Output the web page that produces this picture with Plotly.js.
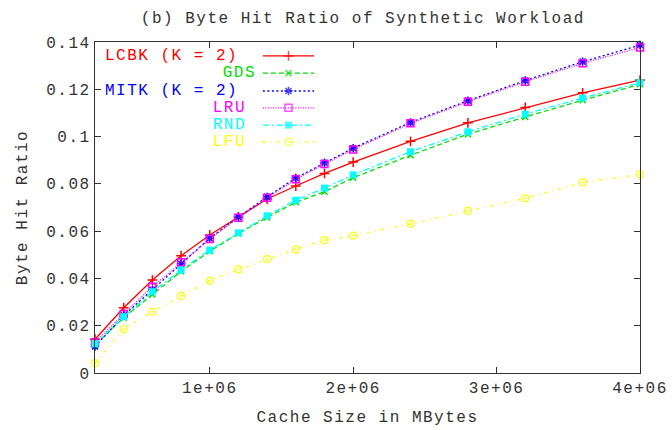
<!DOCTYPE html>
<html>
<head>
<meta charset="utf-8">
<script src="https://cdn.plot.ly/plotly-3.0.1.min.js"></script>
<style>
  html, body { margin: 0; padding: 0; background: #fff; }
  #chart { width: 672px; height: 430px; }
  #chart text { letter-spacing: 1.5px; }
</style>
</head>
<body>
<div id="chart"></div>
<script>
// ---- data ----
const cacheSizes = [200000, 400000, 600000, 800000, 1000000, 1200000, 1400000, 1600000,
                    1800000, 2000000, 2400000, 2800000, 3200000, 3600000, 4000000];
const lcbk = [0.0143, 0.0276, 0.0393, 0.0496, 0.0584, 0.0660, 0.0736, 0.0791, 0.0844, 0.0892, 0.0980, 0.1058, 0.1123, 0.1185, 0.1239];
const gds  = [0.0118, 0.0234, 0.0332, 0.0430, 0.0515, 0.0590, 0.0658, 0.0722, 0.0767, 0.0826, 0.0921, 0.1010, 0.1083, 0.1154, 0.1221];
const mitk = [0.0112, 0.0243, 0.0352, 0.0462, 0.0570, 0.0660, 0.0745, 0.0825, 0.0889, 0.0951, 0.1060, 0.1152, 0.1237, 0.1317, 0.1387];
const lru  = [0.0130, 0.0250, 0.0365, 0.0468, 0.0567, 0.0657, 0.0741, 0.0819, 0.0884, 0.0945, 0.1056, 0.1147, 0.1232, 0.1310, 0.1377];
const rnd  = [0.0123, 0.0238, 0.0344, 0.0436, 0.0520, 0.0593, 0.0665, 0.0731, 0.0782, 0.0838, 0.0936, 0.1020, 0.1095, 0.1163, 0.1228];
const lfu  = [0.0042, 0.0186, 0.0259, 0.0326, 0.0391, 0.0438, 0.0482, 0.0523, 0.0562, 0.0581, 0.0631, 0.0686, 0.0739, 0.0806, 0.0840];

const seriesNames = ["LCBK (K = 2)", "GDS", "MITK (K = 2)", "LRU", "RND", "LFU"];
const xTickVals = [1000000, 2000000, 3000000, 4000000];
const xTickText = ["1e+06", "2e+06", "3e+06", "4e+06"];

// ---- styles ----
const styles = [
  {color: "#ff0000", dash: "solid",            symbol: "cross-thin-open", size: 7, mlw: 1.5},
  {color: "#00e000", dash: "5px,3px",          symbol: "x-thin-open",     size: 6, mlw: 1.5},
  {color: "#0000ff", dash: "2px,2.5px",        symbol: "asterisk-open",   size: 7, mlw: 1.5},
  {color: "#ff00ff", dash: "1px,1.5px",        symbol: "square-open",     size: 7, mlw: 1.5},
  {color: "#00ffff", dash: "6px,3px,2px,3px",  symbol: "square",          size: 7, mlw: 0},
  {color: "#ffff00", dash: "3px,5px,1px,5px",  symbol: "circle-open-dot", size: 7, mlw: 1.2}
];
const seriesValues = [lcbk, gds, mitk, lru, rnd, lfu];

const traces = seriesValues.map((vals, i) => ({
  type: "scatter", mode: "lines+markers",
  x: cacheSizes, y: vals, name: seriesNames[i],
  cliponaxis: false,
  line: {color: styles[i].color, width: 1.3, dash: styles[i].dash},
  marker: {symbol: styles[i].symbol, size: styles[i].size, color: styles[i].color,
           line: {color: styles[i].color, width: styles[i].mlw}},
  showlegend: false
}));

// ---- custom legend (text on the left, sample on the right) ----
const legendRowsY = [0.958, 0.906, 0.852, 0.801, 0.749, 0.698];
const legendTextX = [0.031, 0.235, 0.031, 0.217, 0.217, 0.217];
const annotations = seriesNames.map((n, i) => ({
  xref: "paper", yref: "paper", x: legendTextX[i], y: legendRowsY[i],
  xanchor: "left", yanchor: "middle", showarrow: false, text: n,
  font: {family: "Liberation Mono, DejaVu Sans Mono, monospace", size: 16, color: styles[i].color}
}));
seriesNames.forEach((n, i) => {
  traces.push({
    type: "scatter", mode: "lines+markers", xaxis: "x2", yaxis: "y2",
    x: [0.308, 0.355, 0.402], y: [legendRowsY[i], legendRowsY[i], legendRowsY[i]],
    cliponaxis: false, hoverinfo: "skip", showlegend: false,
    line: {color: styles[i].color, width: 1.3, dash: styles[i].dash},
    marker: {symbol: styles[i].symbol, size: [0, styles[i].size, 0], color: styles[i].color,
             line: {color: styles[i].color, width: styles[i].mlw}}
  });
});

const fontFam = "Liberation Mono, DejaVu Sans Mono, monospace";
const layout = {
  width: 672, height: 430,
  margin: {l: 95, r: 32, t: 42, b: 57},
  paper_bgcolor: "#ffffff", plot_bgcolor: "#ffffff",
  font: {family: fontFam, size: 16, color: "#333333"},
  title: {text: "(b) Byte Hit Ratio of Synthetic Workload", x: 0.54, xanchor: "center",
          y: 0.96, yanchor: "middle", font: {family: fontFam, size: 16, color: "#333333"}},
  xaxis: {
    range: [200000, 4000000], tickvals: xTickVals, ticktext: xTickText,
    showgrid: false, zeroline: false, showline: true, mirror: "ticks",
    linecolor: "#333333", linewidth: 1.2, ticks: "inside", ticklen: 6, tickcolor: "#333333",
    title: {text: "Cache Size in MBytes", standoff: 13, font: {family: fontFam, size: 16, color: "#333333"}},
    tickfont: {family: fontFam, size: 16, color: "#333333"}
  },
  yaxis: {
    range: [0, 0.14], dtick: 0.02, tick0: 0,
    showgrid: false, zeroline: false, showline: true, mirror: "ticks",
    linecolor: "#333333", linewidth: 1.2, ticks: "inside", ticklen: 6, tickcolor: "#333333",
    title: {text: "Byte Hit Ratio", standoff: 20, font: {family: fontFam, size: 16, color: "#333333"}},
    tickfont: {family: fontFam, size: 16, color: "#333333"}
  },
  xaxis2: {overlaying: "x", range: [0, 1], visible: false, fixedrange: true},
  yaxis2: {overlaying: "y", range: [0, 1], visible: false, fixedrange: true},
  annotations: annotations,
  showlegend: false
};

Plotly.newPlot("chart", traces, layout, {displayModeBar: false, staticPlot: true});
</script>
</body>
</html>
